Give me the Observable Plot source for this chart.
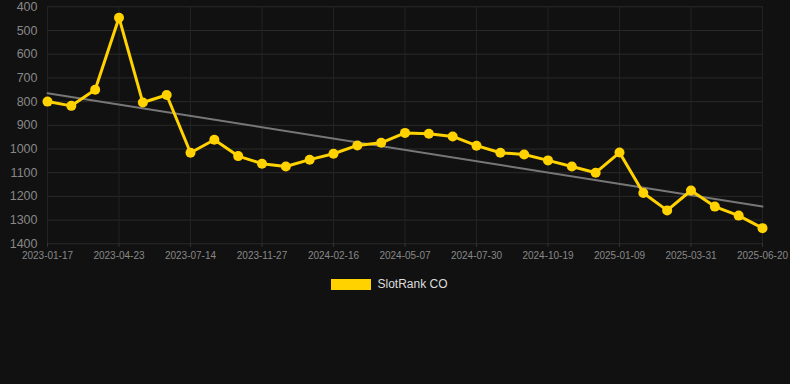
<!DOCTYPE html>
<html>
<head>
<meta charset="utf-8">
<script src="https://cdn.jsdelivr.net/npm/d3@7"></script>
<script src="https://cdn.jsdelivr.net/npm/@observablehq/plot@0.6"></script>
<style>
  html, body { margin: 0; padding: 0; background: #111111; }
  body { width: 790px; height: 384px; overflow: hidden; font-family: "Liberation Sans", Arial, sans-serif; }
  #legend { display: flex; justify-content: center; align-items: center; margin-top: 7px; padding-right: 11px; color: #dddddd; font-size: 12px; }
  #legend .sw { width: 40px; height: 11px; background: #FFD200; margin-right: 6px; }
</style>
</head>
<body>
<div id="chart"></div>
<div id="legend"><span class="sw"></span><span>SlotRank CO</span></div>
<script>
const seriesName = "SlotRank CO";
const tickLabels = ["2023-01-17","2023-04-23","2023-07-14","2023-11-27","2024-02-16","2024-05-07","2024-07-30","2024-10-19","2025-01-09","2025-03-31","2025-06-20"];
const rankValues = [800, 818, 750, 446, 804, 772, 1016, 961, 1030, 1062, 1074, 1045, 1020, 985, 974, 932, 936, 947, 986, 1016, 1023, 1048, 1074, 1100, 1015, 1186, 1259, 1175, 1243, 1281, 1334];
const yTicks = [400, 500, 600, 700, 800, 900, 1000, 1100, 1200, 1300, 1400];

const data = rankValues.map((v, i) => ({i, v}));
const xTicks = tickLabels.map((_, k) => k * 3);

const chart = Plot.plot({
  width: 790,
  height: 270,
  marginLeft: 47,
  marginRight: 28,
  marginTop: 6,
  marginBottom: 27,
  style: {background: "#111111", color: "#888888", fontFamily: "'Liberation Sans', Arial, sans-serif"},
  x: {type: "linear", domain: [0, rankValues.length - 1], ticks: xTicks, tickFormat: d => tickLabels[d / 3], label: null},
  y: {domain: [1400, 400], range: [243.3, 6.3], ticks: yTicks, label: null},
  marks: [
    Plot.gridY(yTicks, {stroke: "#2a2a2a", strokeOpacity: 1}),
    Plot.gridX(xTicks, {stroke: "#222222", strokeOpacity: 1}),
    Plot.axisY({ticks: yTicks, tickFormat: d => String(d), tickSize: 0, tickPadding: 10, fontSize: 12.5, fill: "#888888", label: null}),
    Plot.axisX({ticks: xTicks, tickFormat: d => tickLabels[d / 3], tickSize: 4, stroke: "#333333", tickPadding: 4, fontSize: 10, fill: "#888888", label: null}),
    Plot.linearRegressionY(data, {x: "i", y: "v", ci: 0, stroke: "#777777", strokeWidth: 2}),
    Plot.line(data, {x: "i", y: "v", stroke: "#FFD200", strokeWidth: 3}),
    Plot.dot(data, {x: "i", y: "v", r: 5, fill: "#FFD200", stroke: "none"})
  ]
});
document.getElementById("chart").appendChild(chart);
</script>
</body>
</html>
